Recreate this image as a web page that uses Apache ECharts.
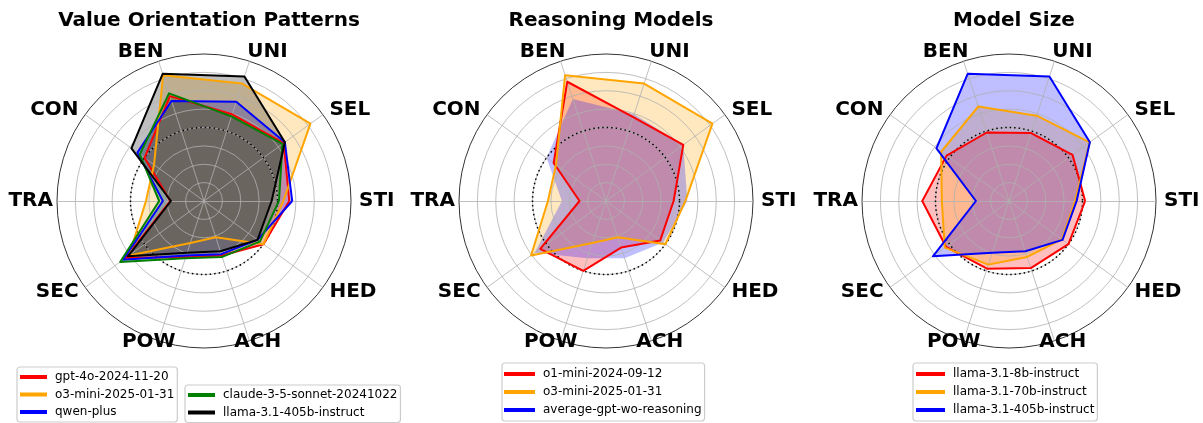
<!DOCTYPE html>
<html><head><meta charset="utf-8">
<script src="https://cdn.jsdelivr.net/npm/echarts@6/dist/echarts.min.js"></script>
<style>html,body{margin:0;padding:0;background:#fff}#c{width:1203px;height:423px}</style>
</head><body><div id="c"></div>
<script>
// Axes in counter-clockwise order starting at 3 o'clock
const axes = ['STI', 'SEL', 'UNI', 'BEN', 'CON', 'TRA', 'SEC', 'POW', 'ACH', 'HED'];
const titles = ['Value Orientation Patterns', 'Reasoning Models', 'Model Size'];
const refValue = 0.5;   // dotted reference circle
const maxValue = 1;

// values (fraction of full scale) in the order of `axes`
const gpt4o      = [0.58, 0.67, 0.62, 0.75, 0.50, 0.23, 0.66, 0.40, 0.39, 0.50];
const o3mini     = [0.54, 0.895, 0.84, 0.90, 0.42, 0.395, 0.63, 0.30, 0.26, 0.50];
const qwenPlus   = [0.60, 0.68, 0.71, 0.715, 0.56, 0.28, 0.68, 0.39, 0.38, 0.45];
const claude     = [0.51, 0.66, 0.605, 0.77, 0.54, 0.305, 0.705, 0.41, 0.40, 0.47];
const llama405b  = [0.46, 0.68, 0.89, 0.91, 0.61, 0.225, 0.64, 0.37, 0.36, 0.45];
const o1mini     = [0.46, 0.65, 0.60, 0.853, 0.44, 0.18, 0.553, 0.50, 0.333, 0.456];
const avgGptNoR  = [0.553, 0.65, 0.62, 0.73, 0.50, 0.30, 0.60, 0.41, 0.41, 0.48];
const llama8b    = [0.518, 0.534, 0.486, 0.49, 0.525, 0.59, 0.53, 0.484, 0.48, 0.50];
const llama70b   = [0.45, 0.678, 0.61, 0.676, 0.57, 0.457, 0.54, 0.455, 0.40, 0.445];

const FONT = 'DejaVu Sans';
const RED = '#ff0000', ORANGE = '#ffa500', BLUE = '#0000ff', GREEN = '#008000', BLACK = '#000000';

// label placement tweaks for the near-vertical axes
const nameLayout = {
  BEN: { nameGap: 9.7, nameTextStyle: { align: 'center', verticalAlign: 'middle', padding: [0, 30, 0, 0] } },
  UNI: { nameGap: 9.7, nameTextStyle: { align: 'center', verticalAlign: 'middle', padding: [0, 0, 0, 30] } },
  POW: { nameGap: 1, nameTextStyle: { align: 'center', verticalAlign: 'middle', padding: [0, 19, 0, 0] } },
  ACH: { nameGap: 1, nameTextStyle: { align: 'center', verticalAlign: 'middle', padding: [0, 0, 0, 16] } },
  TRA: { nameGap: 4 }
};

const panels = [
  { center: [204, 201], models: [
      { name: 'gpt-4o-2024-11-20', color: RED, values: gpt4o },
      { name: 'o3-mini-2025-01-31', color: ORANGE, values: o3mini },
      { name: 'qwen-plus', color: BLUE, values: qwenPlus },
      { name: 'claude-3-5-sonnet-20241022', color: GREEN, values: claude },
      { name: 'llama-3.1-405b-instruct', color: BLACK, values: llama405b } ],
    legends: [ { left: 17, top: 367, idx: [0, 1, 2], iw: 27, gap: 3.5, pad: [3, 3, 3, 3] },
               { left: 185, top: 385, idx: [3, 4], iw: 27, gap: 3.5, pad: [3, 3, 3, 3] } ] },
  { center: [606, 201], models: [
      { name: 'o1-mini-2024-09-12', color: RED, values: o1mini },
      { name: 'o3-mini-2025-01-31', color: ORANGE, values: o3mini },
      { name: 'average-gpt-wo-reasoning', color: BLUE, values: avgGptNoR, noLine: true } ],
    legends: [ { left: 502, top: 363, idx: [0, 1, 2], iw: 31, gap: 4, pad: [4, 3, 4, 2] } ] },
  { center: [1009, 201], models: [
      { name: 'llama-3.1-8b-instruct', color: RED, values: llama8b },
      { name: 'llama-3.1-70b-instruct', color: ORANGE, values: llama70b },
      { name: 'llama-3.1-405b-instruct', color: BLUE, values: llama405b } ],
    legends: [ { left: 913, top: 363, idx: [0, 1, 2], iw: 29, gap: 4, pad: [4, 3, 4, 3] } ] }
];

const R = 147;
const radar = [], series = [], legend = [], title = [];

panels.forEach((p, i) => {
  const indicator = axes.map(a => Object.assign({ name: a, min: 0, max: maxValue }, nameLayout[a] || {}));
  radar.push({
    center: p.center, radius: R, startAngle: 0, shape: 'circle', splitNumber: 8, z: 2,
    indicator: indicator,
    axisName: { color: '#000', fontSize: 20, fontWeight: 'bold', fontFamily: FONT },
    axisNameGap: 8,
    axisLine: { lineStyle: { color: '#b0b0b0', width: 0.8 } },
    axisTick: { show: false }, axisLabel: { show: false },
    splitLine: { lineStyle: { color: ['#b0b0b0','#b0b0b0','#b0b0b0','#b0b0b0','#b0b0b0','#b0b0b0','#b0b0b0','#b0b0b0','#000000'], width: 0.8 } },
    splitArea: { show: false }
  });
  title.push({ text: titles[i], left: p.center[0], top: 6, textAlign: 'center',
    textStyle: { fontFamily: FONT, fontSize: 20, fontWeight: 'bold', color: '#000' } });
  // fills
  series.push({ type: 'radar', radarIndex: i, z: 1, silent: true, symbol: 'none',
    data: p.models.map(m => ({ name: 'fill:' + m.name + '#' + (i + 1), value: m.values,
      itemStyle: { color: m.color }, lineStyle: { width: 0, opacity: 0 },
      areaStyle: { color: m.color, opacity: 0.25 } })) });
  // outlines
  series.push({ type: 'radar', radarIndex: i, z: 3, silent: true, symbol: 'none',
    data: p.models.map(m => ({ name: m.name + '#' + (i + 1), value: m.values,
      itemStyle: { color: m.color },
      lineStyle: { color: m.color, width: 2, opacity: m.noLine ? 0 : 1 } })) });
  p.legends.forEach(l => {
    legend.push({ orient: 'vertical', left: l.left, top: l.top, padding: l.pad,
      itemWidth: l.iw, itemHeight: 4, itemGap: l.gap, icon: 'rect',
      backgroundColor: '#fff', borderColor: '#cccccc', borderWidth: 1.2, borderRadius: 3,
      selectedMode: false,
      formatter: n => n.split('#')[0],
      textStyle: { fontFamily: FONT, fontSize: 12, color: '#000', lineHeight: 14, padding: [0, 0, 0, 3] },
      data: l.idx.map(k => p.models[k].name + '#' + (i + 1)) });
  });
});

// dotted reference circles
panels.forEach((p, i) => {
  radar.push({
    center: p.center, radius: R * refValue / maxValue, startAngle: 0, shape: 'circle', splitNumber: 1, z: 2.5,
    indicator: axes.map(a => ({ name: a, min: 0, max: maxValue })),
    axisName: { show: false }, axisLine: { show: false }, axisTick: { show: false }, axisLabel: { show: false },
    splitLine: { lineStyle: { color: '#000', width: 1.5, type: [1.5, 3] } },
    splitArea: { show: false }, silent: true
  });
});

const chart = echarts.init(document.getElementById('c'), null, { renderer: 'canvas' });
chart.setOption({ animation: false, backgroundColor: '#fff', title, radar, series, legend });
</script></body></html>
